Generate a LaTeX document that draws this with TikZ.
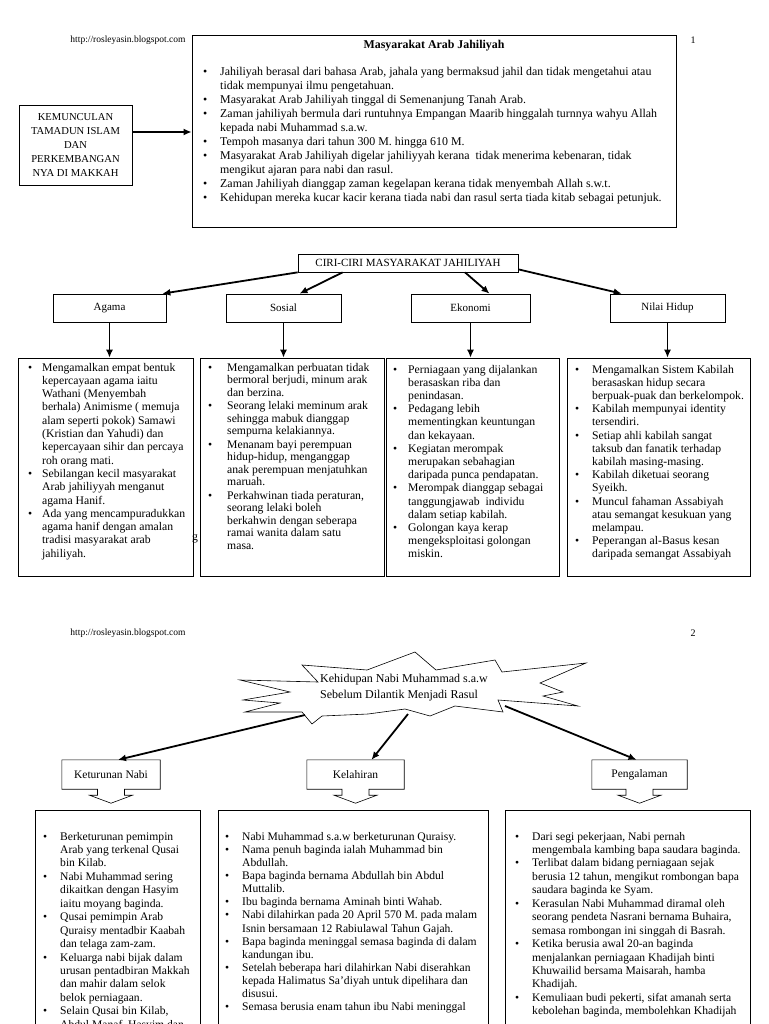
\documentclass[tikz,border=0pt]{standalone}
\usepackage{fontspec}
\setmainfont{Liberation Serif}
\usetikzlibrary{arrows.meta,calc}
\newcommand\bl{\textbullet}
\begin{document}
\begin{tikzpicture}[x=1pt,y=-1pt,
 frame/.style={draw,line width=0.7pt,inner sep=0pt},
 lbl/.style={font=\fontsize{11}{13}\selectfont},
 darr/.style={-{Latex[length=8pt,width=7pt]},line width=1.8pt},
 varr/.style={-{Latex[length=8pt,width=7pt]},line width=1.4pt},
 lst/.style={anchor=base west,inner sep=0pt},
 hdr/.style={font=\fontsize{9.5}{11}\selectfont,inner sep=0pt},
 mid/.style={lst,font=\fontsize{11.7}{13.3}\selectfont},
 pg/.style={lst,font=\fontsize{11.6}{13.45}\selectfont},
 outl/.style={line width=0.6pt},
]
\useasboundingbox (0,0) rectangle (768,1024);
\fill[white] (0,0) rectangle (768,1024);

% ---------- page 1 ----------
\node[hdr] (url1) at (128,40) {http://rosleyasin.blogspot.com};
\node[hdr,font=\fontsize{10}{12}\selectfont] (pn1) at (693,40) {1};

\node[frame,minimum width=484pt,minimum height=192pt] (main) at (434,131) {};
\node[inner sep=0pt,font=\bfseries\fontsize{11.9}{14}\selectfont] (title) at (434,46) {Masyarakat Arab Jahiliyah};
\node[lst,font=\fontsize{11.9}{13.9}\selectfont] (mainlist) at (203,76) {\begin{tabular}[t]{@{}p{17pt}@{}l@{}}
\bl & Jahiliyah berasal dari bahasa Arab, jahala yang bermaksud jahil dan tidak mengetahui atau\\
 & tidak mempunyai ilmu pengetahuan.\\
\bl & Masyarakat Arab Jahiliyah tinggal di Semenanjung Tanah Arab.\\
\bl & Zaman jahiliyah bermula dari runtuhnya Empangan Maarib hinggalah turnnya wahyu Allah\\
 & kepada nabi Muhammad s.a.w.\\
\bl & Tempoh masanya dari tahun 300 M. hingga 610 M.\\
\bl & Masyarakat Arab Jahiliyah digelar jahiliyyah kerana \ tidak menerima kebenaran, tidak\\
 & mengikut ajaran para nabi dan rasul.\\
\bl & Zaman Jahiliyah dianggap zaman kegelapan kerana tidak menyembah Allah s.w.t.\\
\bl & Kehidupan mereka kucar kacir kerana tiada nabi dan rasul serta tiada kitab sebagai petunjuk.
\end{tabular}};

\node[frame,minimum width=113pt,minimum height=80pt,align=center,font=\fontsize{10.6}{13.8}\selectfont] (kem) at (75.5,145)
 {KEMUNCULAN\\TAMADUN ISLAM\\DAN\\PERKEMBANGAN\\NYA DI MAKKAH};
\draw[-{Latex[length=8pt,width=7pt]},line width=2.2pt] ([yshift=13pt]kem.east) -- ([yshift=13pt]kem.east -| main.west);

\node[frame,minimum width=220pt,minimum height=18pt,font=\fontsize{11}{13}\selectfont] (ciri) at (408,263) {CIRI-CIRI MASYARAKAT JAHILIYAH};
\node[frame,lbl,minimum width=113pt,minimum height=28pt] (agama) at (109.5,308) {Agama};
\node[frame,lbl,minimum width=115pt,minimum height=28pt] (sosial) at (283.5,308) {Sosial};
\node[frame,lbl,minimum width=119pt,minimum height=28pt] (ekonomi) at (470.5,308) {Ekonomi};
\node[frame,lbl,minimum width=115pt,minimum height=28pt] (nilai) at (667.5,308) {Nilai Hidup};

\draw[darr] (ciri.south west) -- ($(agama.north east)+(-4,0)$);
\draw[darr] ($(ciri.south west)+(45,0)$) -- ($(sosial.north)+(16,0)$);
\draw[darr] ($(ciri.south)+(57,0)$) -- ($(ekonomi.north)+(19,0)$);
\draw[darr] ($(ciri.south east)+(0,-3)$) -- ($(nilai.north west)+(12,0)$);

\node[frame,minimum width=175pt,minimum height=218pt] (ca) at (105.5,467) {};
\node[frame,minimum width=184pt,minimum height=218pt] (cs) at (292,467) {};
\node[frame,minimum width=173pt,minimum height=218pt] (ce) at (472.5,467) {};
\node[frame,minimum width=183pt,minimum height=218pt] (cn) at (658.5,467) {};

\draw[varr] (agama.south) -- (agama.south |- ca.north);
\draw[varr] (sosial.south) -- (sosial.south |- cs.north);
\draw[varr] (ekonomi.south) -- (ekonomi.south |- ce.north);
\draw[varr] (nilai.south) -- (nilai.south |- cn.north);

\node[mid] (la) at (28,371) {\begin{tabular}[t]{@{}p{14pt}@{}l@{}}
\bl & Mengamalkan empat bentuk\\
 & kepercayaan agama iaitu\\
 & Wathani (Menyembah\\
 & berhala) Animisme ( memuja\\
 & alam seperti pokok) Samawi\\
 & (Kristian dan Yahudi) dan\\
 & kepercayaan sihir dan percaya\\
 & roh orang mati.\\
\bl & Sebilangan kecil masyarakat\\
 & Arab jahiliyyah menganut\\
 & agama Hanif.\\
\bl & Ada yang mencampuradukkan\\
 & agama hanif dengan amalan\\
 & tradisi masyarakat arab\\
 & jahiliyah.
\end{tabular}};
\node[inner sep=0pt,font=\fontsize{11.7}{13.3}\selectfont] (strayg) at (195,539) {g};

\node[mid,font=\fontsize{11.7}{12.5}\selectfont] (ls) at (208,371) {\begin{tabular}[t]{@{}p{19pt}@{}l@{}}
\bl & Mengamalkan perbuatan tidak\\
 & bermoral berjudi, minum arak\\
 & dan berzina.\\[1pt]
\bl & Seorang lelaki meminum arak\\
 & sehingga mabuk dianggap\\
 & sempurna kelakiannya.\\[1pt]
\bl & Menanam bayi perempuan\\
 & hidup-hidup, menganggap\\
 & anak perempuan menjatuhkan\\
 & maruah.\\[1pt]
\bl & Perkahwinan tiada peraturan,\\
 & seorang lelaki boleh\\
 & berkahwin dengan seberapa\\
 & ramai wanita dalam satu\\
 & masa.
\end{tabular}};

\node[mid,font=\fontsize{11.7}{13.2}\selectfont] (le) at (393,373) {\begin{tabular}[t]{@{}p{15pt}@{}l@{}}
\bl & Perniagaan yang dijalankan\\
 & berasaskan riba dan\\
 & penindasan.\\
\bl & Pedagang lebih\\
 & mementingkan keuntungan\\
 & dan kekayaan.\\
\bl & Kegiatan merompak\\
 & merupakan sebahagian\\
 & daripada punca pendapatan.\\
\bl & Merompak dianggap sebagai\\
 & tanggungjawab \ individu\\
 & dalam setiap kabilah.\\
\bl & Golongan kaya kerap\\
 & mengeksploitasi golongan\\
 & miskin.
\end{tabular}};

\node[mid,font=\fontsize{11.7}{13.2}\selectfont] (ln) at (575,373) {\begin{tabular}[t]{@{}p{17pt}@{}l@{}}
\bl & Mengamalkan Sistem Kabilah\\
 & berasaskan hidup secara\\
 & berpuak-puak dan berkelompok.\\
\bl & Kabilah mempunyai identity\\
 & tersendiri.\\
\bl & Setiap ahli kabilah sangat\\
 & taksub dan fanatik terhadap\\
 & kabilah masing-masing.\\
\bl & Kabilah diketuai seorang\\
 & Syeikh.\\
\bl & Muncul fahaman Assabiyah\\
 & atau semangat kesukuan yang\\
 & melampau.\\
\bl & Peperangan al-Basus kesan\\
 & daripada semangat Assabiyah
\end{tabular}};

% ---------- page 2 ----------
\node[hdr] (url2) at (128,633) {http://rosleyasin.blogspot.com};
\node[hdr,font=\fontsize{10}{12}\selectfont] (pn2) at (693,633) {2};

\draw[outl,fill=white] (302,665) -- (367,670) -- (415,652) -- (436,670) -- (495,660) -- (502,672)
 -- (586,663) -- (540,683) -- (563,692) -- (543,696) -- (578,706) -- (498,700) -- (503,712)
 -- (455,706) -- (430,716) -- (405,709) -- (368,714) -- (322,716) -- (312,724) -- (302,712)
 -- (245,712) -- (280,703) -- (243,700) -- (290,692) -- (240,680) -- (318,682) -- cycle;
\node[inner sep=0pt,align=left,font=\fontsize{12}{16}\selectfont] (star) at (404,688)
 {Kehidupan Nabi Muhammad s.a.w\\Sebelum Dilantik Menjadi Rasul};
\coordinate (s1) at (305,715);
\coordinate (s2) at (408,714);
\coordinate (s3) at (505,706);

\newcommand\callout[4]{%
 \node[inner sep=0pt,minimum width=#3,minimum height=29pt,font=\fontsize{11.5}{13}\selectfont] (#1) at (#2,774.5) {#4};
 \draw[outl] (#1.north west) -- (#1.north east) -- (#1.south east) -- ($(#1.south)+(13.5,0)$)
  -- ($(#1.south)+(13.5,6)$) -- ($(#1.south)+(21.5,6)$) -- ($(#1.south)+(0,14)$)
  -- ($(#1.south)+(-21.5,6)$) -- ($(#1.south)+(-13.5,6)$) -- ($(#1.south)+(-13.5,0)$)
  -- (#1.south west) -- cycle;}
\callout{ket}{111}{98pt}{Keturunan Nabi}
\callout{kel}{355.5}{97pt}{Kelahiran}
\callout{pen}{639.5}{95pt}{Pengalaman}

\draw[darr] (s1) -- ($(ket.north)+(7,0)$);
\draw[darr] (s2) -- ($(kel.north)+(16,0)$);
\draw[darr] (s3) -- ($(pen.north)+(-3,0)$);

\node[frame,minimum width=165pt,minimum height=240pt,anchor=north west] (k2) at (35,810) {};
\node[frame,minimum width=270pt,minimum height=240pt,anchor=north west] (l2) at (218,810) {};
\node[frame,minimum width=245pt,minimum height=240pt,anchor=north west] (p2) at (505,810) {};

\node[pg] (lk) at (43,840) {\begin{tabular}[t]{@{}p{17pt}@{}l@{}}
\bl & Berketurunan pemimpin\\
 & Arab yang terkenal Qusai\\
 & bin Kilab.\\
\bl & Nabi Muhammad sering\\
 & dikaitkan dengan Hasyim\\
 & iaitu moyang baginda.\\
\bl & Qusai pemimpin Arab\\
 & Quraisy mentadbir Kaabah\\
 & dan telaga zam-zam.\\
\bl & Keluarga nabi bijak dalam\\
 & urusan pentadbiran Makkah\\
 & dan mahir dalam selok\\
 & belok perniagaan.\\
\bl & Selain Qusai bin Kilab,\\
 & Abdul Manaf, Hasyim dan
\end{tabular}};

\node[pg,font=\fontsize{11.6}{13.15}\selectfont] (ll) at (225,840) {\begin{tabular}[t]{@{}p{17pt}@{}l@{}}
\bl & Nabi Muhammad s.a.w berketurunan Quraisy.\\
\bl & Nama penuh baginda ialah Muhammad bin\\
 & Abdullah.\\
\bl & Bapa baginda bernama Abdullah bin Abdul\\
 & Muttalib.\\
\bl & Ibu baginda bernama Aminah binti Wahab.\\
\bl & Nabi dilahirkan pada 20 April 570 M. pada malam\\
 & Isnin bersamaan 12 Rabiulawal Tahun Gajah.\\
\bl & Bapa baginda meninggal semasa baginda di dalam\\
 & kandungan ibu.\\
\bl & Setelah beberapa hari dilahirkan Nabi diserahkan\\
 & kepada Halimatus Sa'diyah untuk dipelihara dan\\
 & disusui.\\
\bl & Semasa berusia enam tahun ibu Nabi meninggal
\end{tabular}};

\node[pg] (lp) at (515,840) {\begin{tabular}[t]{@{}p{17pt}@{}l@{}}
\bl & Dari segi pekerjaan, Nabi pernah\\
 & mengembala kambing bapa saudara baginda.\\
\bl & Terlibat dalam bidang perniagaan sejak\\
 & berusia 12 tahun, mengikut rombongan bapa\\
 & saudara baginda ke Syam.\\
\bl & Kerasulan Nabi Muhammad diramal oleh\\
 & seorang pendeta Nasrani bernama Buhaira,\\
 & semasa rombongan ini singgah di Basrah.\\
\bl & Ketika berusia awal 20-an baginda\\
 & menjalankan perniagaan Khadijah binti\\
 & Khuwailid bersama Maisarah, hamba\\
 & Khadijah.\\
\bl & Kemuliaan budi pekerti, sifat amanah serta\\
 & kebolehan baginda, membolehkan Khadijah
\end{tabular}};
\end{tikzpicture}
\end{document}
